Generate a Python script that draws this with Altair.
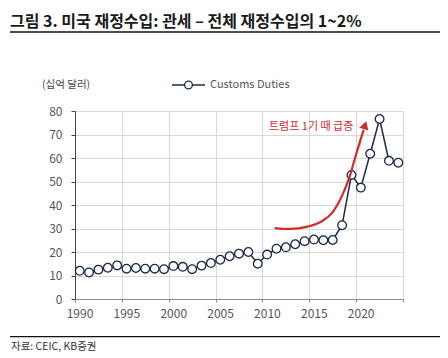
import altair as alt
import pandas as pd

# ---- data ----
years = list(range(1990, 2025))
customs = [12.0, 11.3, 12.5, 13.3, 14.3, 12.9, 13.2, 12.9, 12.9, 12.7,
           14.0, 13.7, 12.7, 14.2, 15.3, 16.7, 18.2, 19.3, 20.0, 15.0,
           18.9, 21.4, 22.0, 23.3, 24.6, 25.3, 25.0, 25.1, 31.4, 52.8,
           47.4, 61.8, 76.6, 58.8, 58.0]

arrow_x = [2010.8, 2012.5, 2014.3, 2015.8, 2017.0, 2018.0, 2018.8, 2019.6, 2020.3]
arrow_y = [30.2, 29.8, 30.8, 33.0, 37.0, 44.0, 52.0, 63.0, 72.0]
head_x = [2020.45]
head_y = [74.0]

note_text = ["트럼프 1기 때 급증"]
note_x = [2019.2]
note_y = [73.3]

title_text = "그림 3. 미국 재정수입: 관세 – 전체 재정수입의 1~2%"
unit_text = "(십억 달러)"
legend_text = "Customs Duties"
source_text = "자료: CEIC, KB증권"

x_grid = [1989.5, 1994.5, 1999.5, 2004.5, 2009.5, 2014.5, 2019.5, 2024.5]
y_ticks = [0, 10, 20, 30, 40, 50, 60, 70, 80]

NAVY = "#1c2a44"
RED = "#d42a2a"
GRID = "#d9d9d9"
FONT = "Noto Sans CJK KR"

df = pd.DataFrame({"year": years, "value": customs})
arrow_df = pd.DataFrame({"year": arrow_x, "value": arrow_y, "o": list(range(len(arrow_x)))})
head_df = pd.DataFrame({"year": head_x, "value": head_y})
note_df = pd.DataFrame({"year": note_x, "value": note_y, "t": note_text})

x_axis = alt.Axis(
    values=x_grid,
    labelExpr="datum.value < 2024 ? format(datum.value + 0.5, 'd') : ''",
    labelOffset=4.5,
    grid=True, gridColor=GRID, gridWidth=1,
    title=None, domainColor="#8c8c8c", tickColor="#8c8c8c", tickSize=3,
    labelPadding=6, labelFontSize=12, labelColor="#555555", labelFont=FONT,
    labelFlush=False, labelOverlap=False,
)
y_axis = alt.Axis(
    values=y_ticks, tickCount=9, grid=True, gridColor=GRID, gridWidth=1,
    title=None, domainColor="#444444", tickColor="#444444", tickSize=4,
    labelPadding=9, labelFontSize=12, labelColor="#555555", labelFont=FONT,
    labelOverlap=False,
)
x_scale = alt.Scale(domain=[1989.5, 2024.5], nice=False, zero=False)
y_scale = alt.Scale(domain=[0, 80], nice=False)


def X():
    return alt.X("year:Q", scale=x_scale, axis=x_axis)


def Y():
    return alt.Y("value:Q", scale=y_scale, axis=y_axis)


base = alt.Chart(df)
line = base.mark_line(color=NAVY, strokeWidth=1.5).encode(x=X(), y=Y())
pts = base.mark_point(shape="circle", filled=True, fill="white", stroke=NAVY,
                      strokeWidth=1.3, size=75, opacity=1).encode(x=X(), y=Y())

arrow = alt.Chart(arrow_df).mark_line(color=RED, strokeWidth=2.2, interpolate="monotone").encode(
    x=X(), y=Y(), order="o:Q")
head = alt.Chart(head_df).mark_point(shape="triangle-up", filled=True, color=RED, size=90,
                                     angle=17, opacity=1).encode(x=X(), y=Y())
note = alt.Chart(note_df).mark_text(align="right", baseline="middle", fontSize=11, color=RED,
                                    font=FONT).encode(x=X(), y=Y(), text="t:N")

one = pd.DataFrame({"a": [0]})


def txt(s, x, y, size, color, weight="normal", align="left"):
    return alt.Chart(pd.DataFrame({"t": [s]})).mark_text(
        align=align, baseline="middle", fontSize=size, color=color, fontWeight=weight, font=FONT
    ).encode(text="t:N", x=alt.value(x), y=alt.value(y))


title = txt(title_text, -65, -89.5, 16, "#1a1a1a", "bold")
title_rule = alt.Chart(one).mark_rule(color="#111111", strokeWidth=1.3).encode(
    x=alt.value(-65), x2=alt.value(367), y=alt.value(-79))
unit = txt(unit_text, -33, -26, 10.5, "#444444")
leg_rule = alt.Chart(one).mark_rule(color=NAVY, strokeWidth=1.5).encode(
    x=alt.value(97), x2=alt.value(130), y=alt.value(-26))
leg_pt = alt.Chart(one).mark_point(shape="circle", filled=True, fill="white", stroke=NAVY,
                                   strokeWidth=1.3, size=60, opacity=1).encode(
    x=alt.value(113.5), y=alt.value(-26))
leg_txt = txt(legend_text, 135, -26, 11, "#555555")
foot_rule = alt.Chart(one).mark_rule(color="#111111", strokeWidth=1.2).encode(
    x=alt.value(-65), x2=alt.value(366), y=alt.value(225.7))
foot = txt(source_text, -64, 235.5, 10.5, "#333333")

chart = alt.layer(
    line, pts, arrow, head, note,
    title, title_rule, unit, leg_rule, leg_pt, leg_txt, foot_rule, foot,
).properties(
    width=328, height=188,
    padding={"left": 67, "top": 103, "right": 37, "bottom": 56},
    autosize=alt.AutoSizeParams(type="none"),
).configure_view(stroke=None).configure(font=FONT)

chart.save("out.html", embed_options={"renderer": "svg", "actions": False})
